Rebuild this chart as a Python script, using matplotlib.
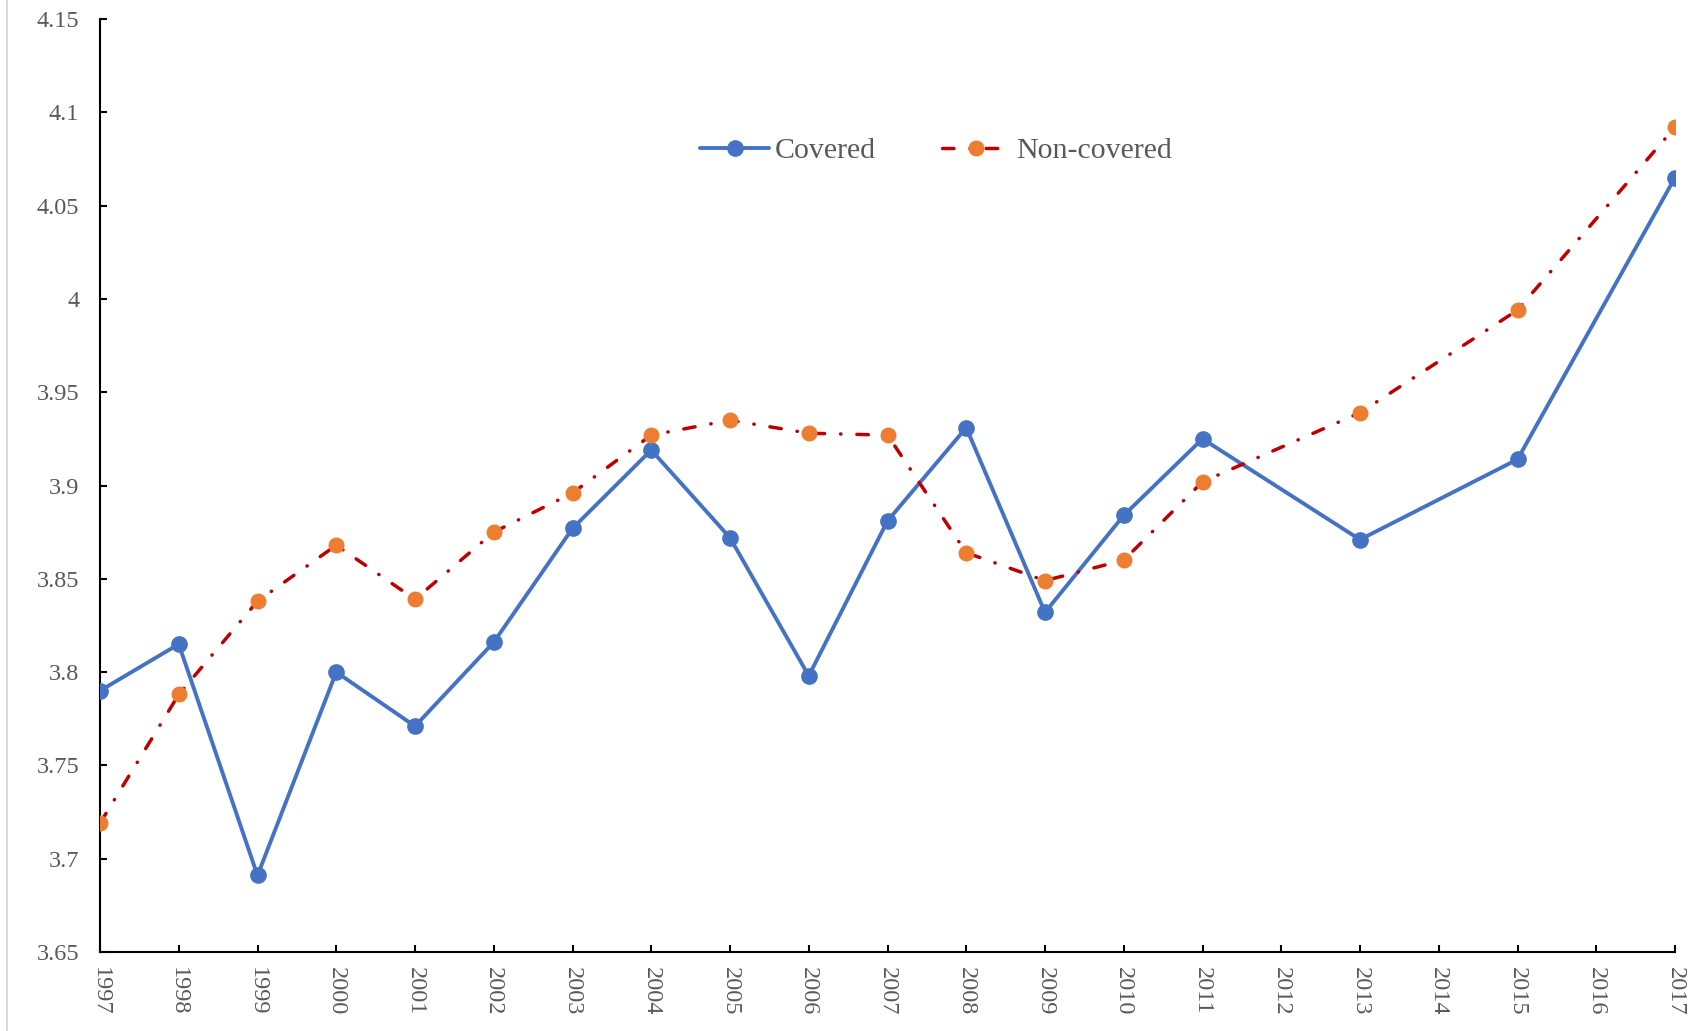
import numpy as np
import matplotlib
matplotlib.use("Agg")
import matplotlib.pyplot as plt
from matplotlib.lines import Line2D

plt.rcParams['font.family'] = ['Liberation Serif', 'DejaVu Serif']

years = list(range(1997, 2018))

covered_years = [1997, 1998, 1999, 2000, 2001, 2002, 2003, 2004, 2005, 2006,
                 2007, 2008, 2009, 2010, 2011, 2013, 2015, 2017]
covered = [3.790, 3.815, 3.691, 3.800, 3.771, 3.816, 3.877, 3.919, 3.872, 3.798,
           3.881, 3.931, 3.832, 3.884, 3.925, 3.871, 3.914, 4.065]

noncovered_years = [1997, 1998, 1999, 2000, 2001, 2002, 2003, 2004, 2005, 2006,
                    2007, 2008, 2009, 2010, 2011, 2013, 2015, 2017]
noncovered = [3.719, 3.788, 3.838, 3.868, 3.839, 3.875, 3.896, 3.927, 3.935, 3.928,
              3.927, 3.864, 3.849, 3.860, 3.902, 3.939, 3.994, 4.092]

y_ticks = [3.65, 3.7, 3.75, 3.8, 3.85, 3.9, 3.95, 4.0, 4.05, 4.1, 4.15]
y_labels = ['3.65', '3.7', '3.75', '3.8', '3.85', '3.9', '3.95', '4', '4.05', '4.1', '4.15']

BLUE = '#4472C4'
RED = '#C00000'
ORANGE = '#ED7D31'
TEXT = '#595959'

fig = plt.figure(figsize=(17.05, 10.31), dpi=100)
ax = fig.add_axes([100 / 1705, 1 - 952 / 1031, 1575 / 1705, 933 / 1031])

ax.plot(covered_years, covered, color=BLUE, lw=2.8, marker='o', markersize=11,
        markerfacecolor=BLUE, markeredgecolor=BLUE, label='Covered',
        solid_capstyle='round', solid_joinstyle='round', zorder=3)
ax.plot(noncovered_years, noncovered, color=RED, lw=2.5, linestyle=(0, (3.3, 4.6, 0.1, 4.6)),
        dash_capstyle='round', marker='o', markersize=10.5,
        markerfacecolor=ORANGE, markeredgecolor=ORANGE, label='Non-covered', zorder=4)

ax.set_xlim(years[0], years[-1])
ax.set_ylim(y_ticks[0], y_ticks[-1])
ax.set_xticks(years)
ax.set_xticklabels([str(y) for y in years], rotation=-90, fontsize=17.5, color=TEXT)
ax.set_yticks(y_ticks)
ax.set_yticklabels(y_labels, fontsize=17.5, color=TEXT)

for side in ('top', 'right'):
    ax.spines[side].set_visible(False)
for side in ('left', 'bottom'):
    ax.spines[side].set_linewidth(1.5)
    ax.spines[side].set_color('black')

ax.tick_params(axis='both', direction='in', length=5, width=1.5, color='black')
ax.tick_params(axis='y', pad=15)
ax.tick_params(axis='x', pad=11)

leg = ax.legend(loc='center', bbox_to_anchor=(0.531, 0.859), ncol=2, frameon=False,
                fontsize=21.5, handlelength=2.3, columnspacing=2.2, handletextpad=0.2,
                labelcolor=TEXT)

fig.add_artist(Line2D([7 / 1705, 7 / 1705], [0, 1], transform=fig.transFigure,
                      color='#D9D9D9', lw=1.5))

fig.savefig('out.png', dpi=100)
